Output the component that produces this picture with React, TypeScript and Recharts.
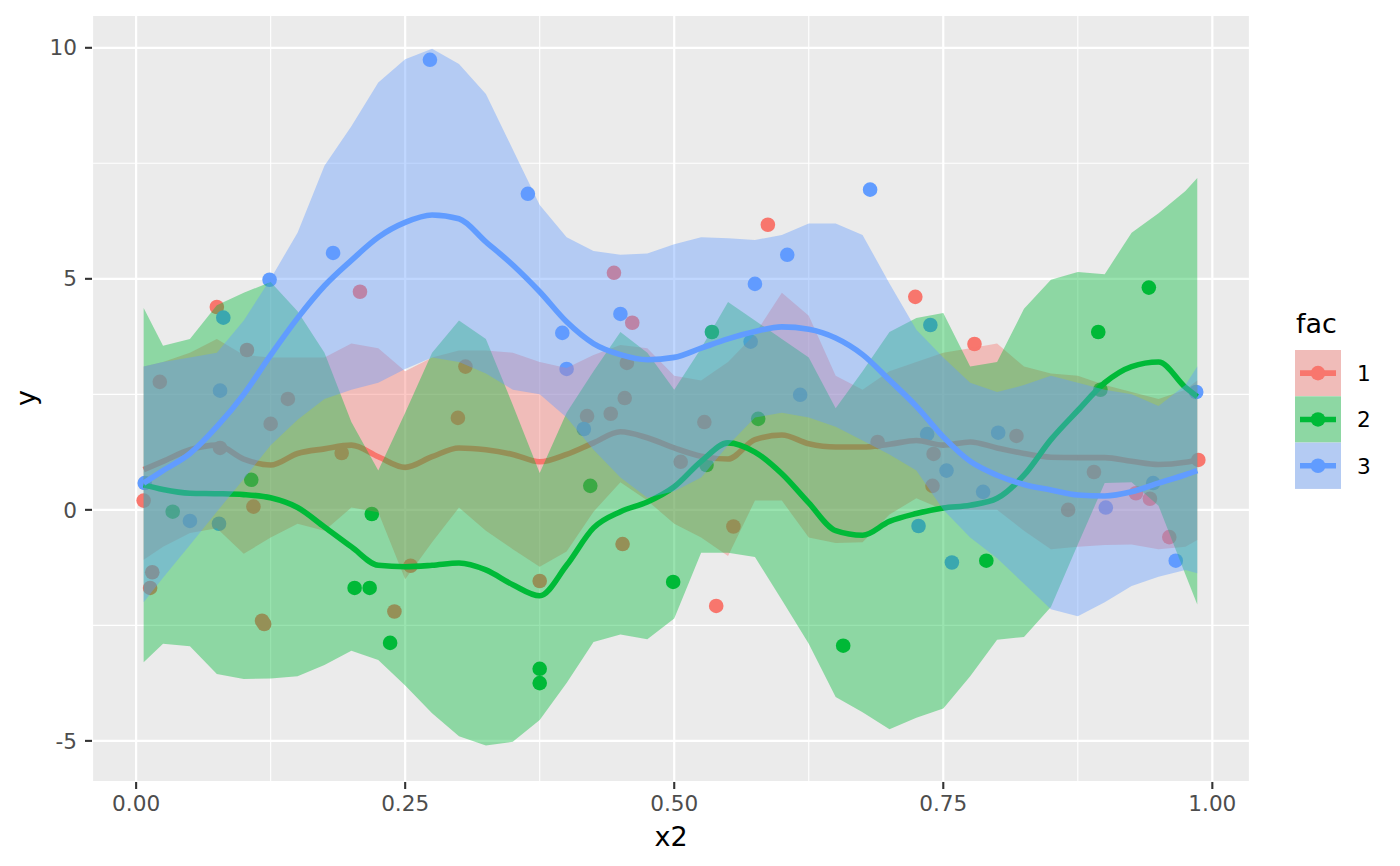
import React from 'react';
import { ComposedChart, Area, Line, Scatter, XAxis, YAxis, CartesianGrid } from 'recharts';

const RED = '#F8766D';
const GREEN = '#00BA38';
const BLUE = '#619CFF';

// x positions where the smooths / ribbons are evaluated
const xGrid = [0.007, 0.025, 0.05, 0.075, 0.1, 0.125, 0.15, 0.175, 0.2, 0.225, 0.25, 0.275, 0.3, 0.325, 0.35, 0.375, 0.4, 0.425, 0.45, 0.475, 0.5, 0.525, 0.55, 0.575, 0.6, 0.625, 0.65, 0.675, 0.7, 0.725, 0.75, 0.775, 0.8, 0.825, 0.85, 0.875, 0.9, 0.925, 0.95, 0.975, 0.986];

// fac = 1
const fit1 = [0.87, 1.05, 1.3, 1.4, 1.1, 0.97, 1.22, 1.32, 1.4, 1.15, 0.92, 1.15, 1.34, 1.3, 1.2, 1.04, 1.2, 1.45, 1.69, 1.56, 1.34, 1.16, 1.1, 1.52, 1.62, 1.43, 1.36, 1.36, 1.42, 1.5, 1.4, 1.47, 1.34, 1.22, 1.14, 1.13, 1.13, 1.05, 0.98, 1.03, 1.08];
const lo1 = [-1.08, -0.8, -0.5, -0.4, -0.95, -0.6, -0.3, -0.45, 0.05, -0.05, -1.5, -0.7, 0.05, -0.45, -0.85, -1.23, -0.9, -0.04, 0.6, 0.2, -0.3, -0.6, -1.0, 0.2, 0.2, -0.6, -0.72, -0.7, -0.1, 0.25, 0.0, 0.0, 0.0, -0.45, -0.85, -0.8, -0.76, -0.75, -0.85, -0.8, -0.65];
const hi1 = [3.1, 3.2, 3.4, 3.7, 3.35, 3.3, 3.3, 3.3, 3.6, 3.5, 3.0, 3.3, 3.45, 3.45, 3.4, 3.2, 3.07, 3.35, 3.57, 3.5, 2.9, 2.8, 3.2, 3.8, 4.7, 4.2, 2.9, 2.6, 3.0, 3.2, 3.4, 3.5, 3.6, 3.1, 2.95, 2.9, 2.7, 2.55, 2.4, 2.6, 2.8];

// fac = 2
const fit2 = [0.54, 0.44, 0.36, 0.35, 0.33, 0.26, 0.05, -0.37, -0.8, -1.2, -1.23, -1.2, -1.15, -1.3, -1.62, -1.86, -1.2, -0.39, -0.04, 0.17, 0.5, 1.05, 1.45, 1.25, 0.78, 0.15, -0.45, -0.55, -0.25, -0.08, 0.04, 0.1, 0.25, 0.75, 1.52, 2.15, 2.75, 3.1, 3.2, 2.65, 2.45];
const lo2 = [-3.3, -2.9, -2.95, -3.55, -3.66, -3.65, -3.6, -3.36, -3.05, -3.25, -3.8, -4.4, -4.9, -5.1, -5.02, -4.55, -3.75, -2.86, -2.7, -2.8, -2.35, -0.93, -0.93, -1.02, -1.95, -2.9, -4.05, -4.38, -4.75, -4.5, -4.3, -3.6, -2.81, -2.75, -2.1, -0.75, 0.58, 0.6, 0.09, -1.4, -2.05];
const hi2 = [4.37, 3.55, 3.7, 4.43, 4.7, 4.93, 4.3, 3.4, 1.9, 0.85, 2.1, 3.4, 4.1, 3.7, 2.27, 0.8, 2.1, 3.0, 3.85, 3.4, 2.6, 3.5, 4.5, 4.1, 3.7, 3.3, 2.2, 3.0, 3.85, 4.15, 4.26, 3.1, 3.2, 4.35, 4.98, 5.15, 5.1, 6.0, 6.42, 6.9, 7.18];

// fac = 3
const fit3 = [0.58, 0.85, 1.22, 1.8, 2.5, 3.35, 4.15, 4.85, 5.4, 5.9, 6.22, 6.38, 6.3, 5.8, 5.3, 4.72, 4.07, 3.6, 3.36, 3.25, 3.3, 3.5, 3.7, 3.86, 3.96, 3.91, 3.72, 3.36, 2.81, 2.24, 1.58, 1.05, 0.75, 0.55, 0.43, 0.32, 0.3, 0.39, 0.58, 0.76, 0.85];
const lo3 = [-2.0, -1.47, -0.76, -0.04, 0.67, 1.4, 1.95, 2.4, 2.6, 2.75, 3.05, 3.3, 3.2, 2.95, 2.6, 2.5, 2.0, 1.3, 0.7, 0.26, 0.4, 0.7, 1.4, 2.0, 2.1, 2.0, 1.8, 1.5, 1.2, 0.85, 0.0, -0.6, -1.05, -1.6, -2.15, -2.3, -2.0, -1.65, -1.45, -1.3, -1.37];
const hi3 = [3.1, 3.2, 3.3, 3.4, 4.1, 5.0, 6.0, 7.45, 8.3, 9.25, 9.75, 9.98, 9.65, 9.0, 7.8, 6.6, 5.9, 5.6, 5.52, 5.55, 5.75, 5.9, 5.88, 5.84, 5.95, 6.2, 6.2, 5.95, 4.9, 3.9, 3.3, 2.75, 2.55, 2.7, 2.9, 2.75, 2.6, 2.5, 2.25, 2.7, 3.1];

// raw observations
const x1 = [0.007, 0.013, 0.015, 0.022, 0.075, 0.078, 0.103, 0.109, 0.117, 0.119, 0.125, 0.141, 0.191, 0.208, 0.24, 0.255, 0.299, 0.306, 0.375, 0.419, 0.441, 0.444, 0.452, 0.454, 0.456, 0.461, 0.506, 0.528, 0.539, 0.555, 0.587, 0.689, 0.724, 0.74, 0.741, 0.779, 0.818, 0.866, 0.89, 0.929, 0.942, 0.96, 0.987];
const y1 = [0.2, -1.69, -1.35, 2.77, 4.39, 1.34, 3.46, 0.07, -2.4, -2.47, 1.86, 2.4, 1.23, 4.72, -2.2, -1.21, 1.99, 3.1, -1.54, 2.03, 2.08, 5.13, -0.74, 2.42, 3.18, 4.05, 1.04, 1.9, -2.08, -0.36, 6.17, 1.47, 4.61, 0.52, 1.21, 3.59, 1.6, 0.0, 0.82, 0.36, 0.24, -0.59, 1.08];
const x2 = [0.034, 0.107, 0.203, 0.217, 0.219, 0.236, 0.375, 0.375, 0.422, 0.499, 0.53, 0.535, 0.578, 0.657, 0.79, 0.894, 0.896, 0.941];
const y2 = [-0.04, 0.65, -1.69, -1.69, -0.09, -2.88, -3.44, -3.75, 0.52, -1.56, 0.97, 3.85, 1.97, -2.94, -1.1, 3.85, 2.6, 4.81];
const x3 = [0.008, 0.05, 0.077, 0.078, 0.081, 0.124, 0.183, 0.273, 0.364, 0.396, 0.4, 0.416, 0.45, 0.571, 0.575, 0.605, 0.617, 0.682, 0.727, 0.735, 0.738, 0.753, 0.758, 0.787, 0.801, 0.901, 0.945, 0.966, 0.985];
const y3 = [0.58, -0.24, -0.3, 2.58, 4.16, 4.98, 5.56, 9.74, 6.84, 3.83, 3.05, 1.75, 4.24, 3.64, 4.89, 5.52, 2.49, 6.93, -0.35, 1.64, 4.0, 0.85, -1.14, 0.39, 1.67, 0.05, 0.58, -1.1, 2.55];

const xTicks = [0, 0.25, 0.5, 0.75, 1];
const yTicks = [-5, 0, 5, 10];
const xMinor = [0.125, 0.375, 0.625, 0.875];
const yMinor = [-2.5, 2.5, 7.5];
const xDomain = [-0.041, 1.035];
const yDomain = [-5.89, 10.71];

const levels = ['1', '2', '3'];
const colors = [RED, GREEN, BLUE];

const rows = xGrid.map((x, i) => ({
  x,
  fit1: fit1[i], band1: [lo1[i], hi1[i]],
  fit2: fit2[i], band2: [lo2[i], hi2[i]],
  fit3: fit3[i], band3: [lo3[i], hi3[i]],
}));

const toPts = (xs: number[], ys: number[]) => xs.map((x, i) => ({ x, y: ys[i] }));
const pts1 = toPts(x1, y1);
const pts2 = toPts(x2, y2);
const pts3 = toPts(x3, y3);

const FONT = '"DejaVu Sans", Verdana, sans-serif';
const LINE_W = 5.6;
const DOT_R = 7.3;

const dotShape = (color: string) => (p: any) => <circle cx={p.cx} cy={p.cy} r={DOT_R} fill={color} />;

const tickStyle = { fill: '#4D4D4D', fontSize: 21.6, fontFamily: FONT };

export default function App() {
  return (
    <div style={{ position: 'absolute', left: 0, top: 0, width: 1400, height: 866, background: '#fff' }}>
      <ComposedChart width={1400} height={866} data={rows} margin={{ top: 15, right: 150, bottom: 0, left: 0 }}>
        {/* minor grid on hidden axes, then major grid */}
        <XAxis xAxisId="minor" type="number" dataKey="x" domain={xDomain} allowDataOverflow ticks={xMinor} hide />
        <YAxis yAxisId="minor" type="number" domain={yDomain} allowDataOverflow ticks={yMinor} hide />
        <CartesianGrid xAxisId="minor" yAxisId="minor" fill="#EBEBEB" stroke="#FFFFFF" strokeWidth={1.1} />
        <CartesianGrid stroke="#FFFFFF" strokeWidth={2.2} />
        <XAxis
          type="number"
          dataKey="x"
          domain={xDomain}
          allowDataOverflow
          ticks={xTicks}
          tickFormatter={(v: number) => v.toFixed(2)}
          height={84}
          axisLine={false}
          tickSize={7}
          tickMargin={7}
          tickLine={{ stroke: '#333333', strokeWidth: 2.1 }}
          tick={tickStyle}
        />
        <YAxis
          type="number"
          domain={yDomain}
          allowDataOverflow
          ticks={yTicks}
          width={92}
          axisLine={false}
          tickSize={7}
          tickMargin={8}
          tickLine={{ stroke: '#333333', strokeWidth: 2.1 }}
          tick={tickStyle}
        />

        <Scatter data={pts1} dataKey="y" shape={dotShape(RED)} isAnimationActive={false} zIndex={100} />
        <Scatter data={pts2} dataKey="y" shape={dotShape(GREEN)} isAnimationActive={false} zIndex={100} />
        <Scatter data={pts3} dataKey="y" shape={dotShape(BLUE)} isAnimationActive={false} zIndex={100} />

        <Area type="linear" dataKey="band1" fill={RED} fillOpacity={0.4} stroke="none" dot={false} activeDot={false} isAnimationActive={false} zIndex={101} />
        <Line type="monotone" dataKey="fit1" stroke={RED} strokeWidth={LINE_W} dot={false} activeDot={false} isAnimationActive={false} zIndex={102} />
        <Area type="linear" dataKey="band2" fill={GREEN} fillOpacity={0.4} stroke="none" dot={false} activeDot={false} isAnimationActive={false} zIndex={103} />
        <Line type="monotone" dataKey="fit2" stroke={GREEN} strokeWidth={LINE_W} dot={false} activeDot={false} isAnimationActive={false} zIndex={104} />
        <Area type="linear" dataKey="band3" fill={BLUE} fillOpacity={0.4} stroke="none" dot={false} activeDot={false} isAnimationActive={false} zIndex={105} />
        <Line type="monotone" dataKey="fit3" stroke={BLUE} strokeWidth={LINE_W} dot={false} activeDot={false} isAnimationActive={false} zIndex={106} />
      </ComposedChart>

      <svg width={1400} height={866} style={{ position: 'absolute', left: 0, top: 0, pointerEvents: 'none' }}>
        <text x={671} y={846} textAnchor="middle" fontSize={27} fontFamily={FONT} fill="#000">x2</text>
        <text x={35} y={398} textAnchor="middle" fontSize={27} fontFamily={FONT} fill="#000" transform="rotate(-90, 35, 398)">y</text>

        <text x={1296} y={333} fontSize={27} fontFamily={FONT} fill="#000">fac</text>
        {levels.map((lv, i) => {
          const top = 350 + i * 46.3;
          const cy = top + 23.15;
          return (
            <g key={lv}>
              <rect x={1295} y={top} width={46} height={46.3} fill="#EBEBEB" />
              <rect x={1295} y={top} width={46} height={46.3} fill={colors[i]} fillOpacity={0.4} />
              <line x1={1300} x2={1336} y1={cy} y2={cy} stroke={colors[i]} strokeWidth={LINE_W} />
              <circle cx={1318} cy={cy} r={DOT_R} fill={colors[i]} />
              <text x={1357} y={cy + 8} fontSize={21.6} fontFamily={FONT} fill="#000">{lv}</text>
            </g>
          );
        })}
      </svg>
    </div>
  );
}
